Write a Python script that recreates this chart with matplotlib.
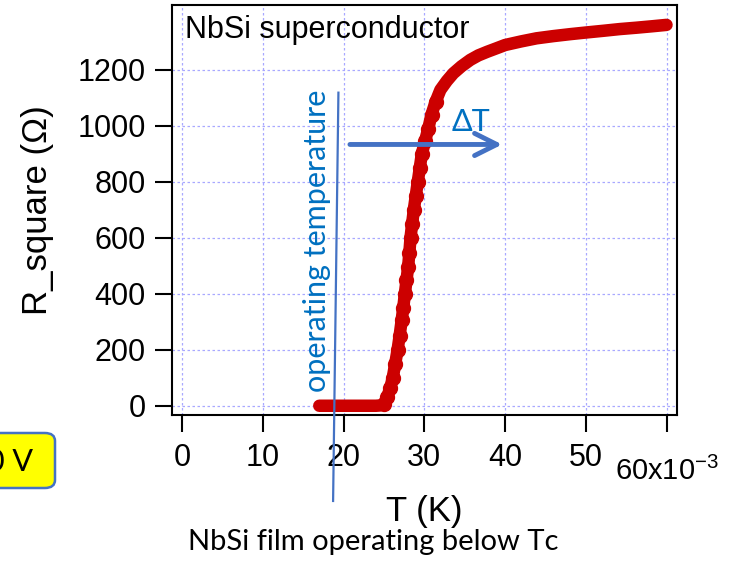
import matplotlib
matplotlib.use("Agg")
import matplotlib.pyplot as plt
from matplotlib.patches import FancyArrowPatch, FancyBboxPatch
from matplotlib.lines import Line2D

plt.rcParams['font.family'] = ['Liberation Sans', 'DejaVu Sans']
plt.rcParams['mathtext.fontset'] = 'custom'
plt.rcParams['mathtext.rm'] = 'Liberation Sans'
plt.rcParams['mathtext.default'] = 'regular'

# resistance vs temperature (T in units of 1e-3)
temp = [17.0, 17.5, 18.0, 18.5, 19.0, 19.5, 20.0, 20.5, 21.0, 21.5, 22.0, 22.5,
        23.0, 23.5, 24.0, 24.5, 25.0, 25.4, 25.8, 26.1, 26.4, 26.7, 26.95, 27.2,
        27.4, 27.6, 27.8, 28.0, 28.15, 28.3, 28.5, 28.7, 28.95, 29.2, 29.45, 29.7,
        30.1, 30.5, 30.9, 31.4, 32.0, 32.8, 33.6, 34.6, 35.7, 36.7, 37.8, 39.0,
        40.0, 42.0, 43.9, 46.0, 48.1, 50.1, 52.2, 54.2, 56.3, 58.2, 60.0]
r_square = [0, 0, 0, 0, 0, 0, 0, 0, 0, 0, 0, 0,
            0, 0, 0, 1, 6, 30, 65, 100, 150, 200, 250, 305,
            350, 400, 448, 495, 545, 600, 650, 698, 750, 800, 850, 900,
            945, 990, 1040, 1085, 1128, 1160, 1187, 1212, 1235, 1251, 1264, 1277,
            1288, 1301, 1312, 1320, 1327, 1333, 1339, 1345, 1350, 1355, 1360]

xticks = [0, 10, 20, 30, 40, 50, 60]
xticklabels = ['0', '10', '20', '30', '40', '50', '']
yticks = [0, 200, 400, 600, 800, 1000, 1200]

W, H = 729, 570
fig = plt.figure(figsize=(7.29, 5.70), dpi=100)
ax = fig.add_axes([172 / W, 1 - 415 / H, (677 - 172) / W, (415 - 5) / H])

# thick band; the individual points only stand out along the steep part
ax.plot(temp, r_square, '-', color='#cc0000', lw=9, solid_capstyle='round', zorder=3)
ax.plot(temp[16:40], r_square[16:40], 'o', color='#cc0000', ms=10, zorder=3)

ax.set_xlim(-1.24, 61.3)
ax.set_ylim(-33, 1431)
ax.set_xticks(xticks)
ax.set_xticklabels(xticklabels)
ax.set_yticks(yticks)
ax.tick_params(axis='both', direction='out', length=12, width=1.5,
               labelsize=22, top=False, right=False)
ax.tick_params(axis='x', pad=8)
ax.tick_params(axis='y', pad=7)
for sp in ax.spines.values():
    sp.set_linewidth(1.5)
ax.grid(True, color='#a8a8ff', lw=0.9, linestyle=(0, (2, 2)))
ax.set_axisbelow(True)

ax.set_xlabel('T (K)', fontsize=25, labelpad=16)
ax.set_ylabel('R_square (Ω)', fontsize=25, labelpad=17)

fig.text(615 / W, 1 - 480 / H, '60x10$^{-3}$', fontsize=21, ha='left', va='baseline')

ax.text(0.025, 0.975, 'NbSi superconductor', transform=ax.transAxes,
        fontsize=22, ha='left', va='top')

# operating temperature marker
ax.add_line(Line2D([19.37, 18.71], [1118, -340], color='#4472c4', lw=1.6,
                   clip_on=False, zorder=4))
ax.text(16.7, 590, 'operating temperature', rotation=90, color='#0070c0',
        fontsize=22, family='Lato', ha='center', va='center')

# transition width arrow
arrow = FancyArrowPatch((20.45, 933), (40.0, 933),
                        arrowstyle='->,head_length=0.8,head_width=0.4',
                        mutation_scale=20, color='#4472c4', lw=3.5, zorder=5)
ax.add_patch(arrow)
ax.text(33.4, 962, 'ΔT', color='#0070c0', fontsize=22, family='Lato',
        ha='left', va='bottom')

# bias box on the left
box = FancyBboxPatch((-0.05, 1 - 488 / H), 0.05 + 55 / W, 55 / H,
                     boxstyle='round,pad=0,rounding_size=0.014',
                     transform=fig.transFigure, facecolor='#ffff00',
                     edgecolor='#4472c4', lw=1.8, clip_on=False)
fig.patches.append(box)
fig.text(33 / W, 1 - 462 / H, '0 V', fontsize=22, family='Lato',
         ha='right', va='center')

fig.text(373 / W, 1 - 550 / H, 'NbSi film operating below Tc', fontsize=21,
         family='Lato', ha='center', va='baseline')

fig.savefig('out.png', dpi=100)
